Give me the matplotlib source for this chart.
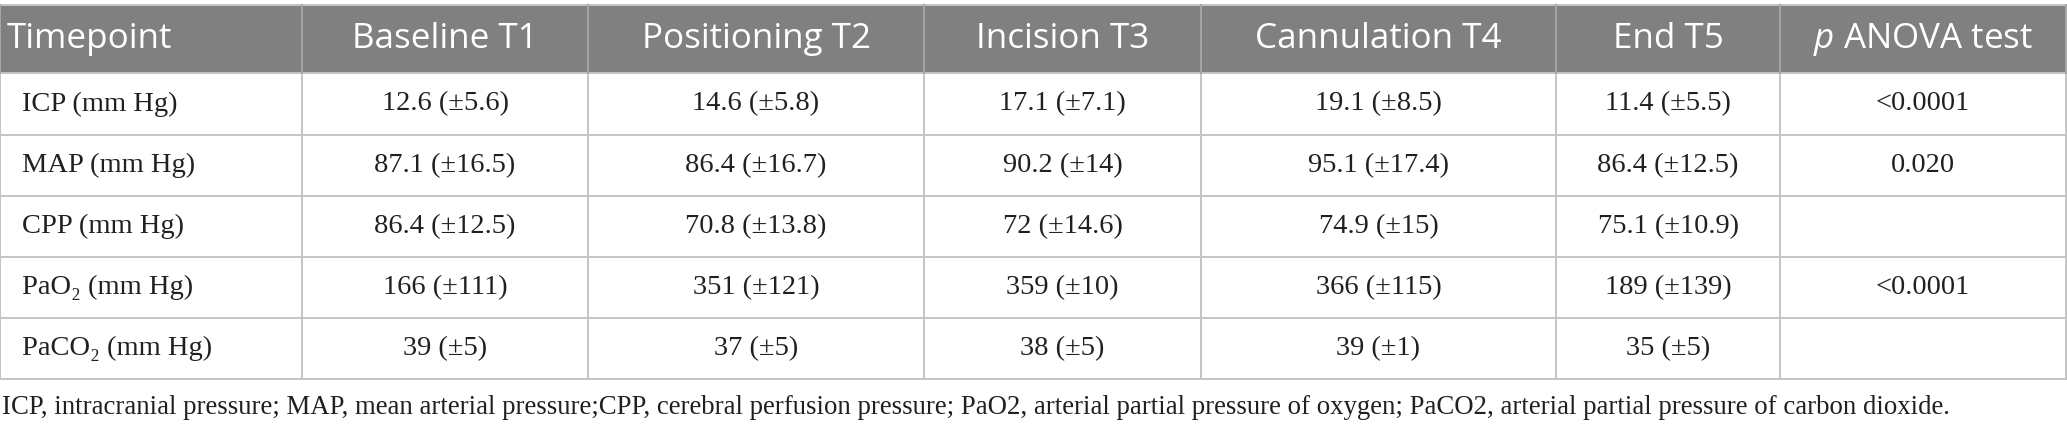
import matplotlib
matplotlib.use("Agg")
import matplotlib.pyplot as plt

plt.rcParams['mathtext.fontset'] = 'custom'
plt.rcParams['mathtext.rm'] = 'Open Sans'
plt.rcParams['mathtext.it'] = 'Open Sans:italic'

headers = ["Timepoint", "Baseline T1", "Positioning T2", "Incision T3",
           "Cannulation T4", "End T5", "$p$ ANOVA test"]
params = ["ICP (mm Hg)", "MAP (mm Hg)", "CPP (mm Hg)",
          "PaO\u2082 (mm Hg)", "PaCO\u2082 (mm Hg)"]
t1 = ["12.6 (±5.6)", "87.1 (±16.5)", "86.4 (±12.5)", "166 (±111)", "39 (±5)"]
t2 = ["14.6 (±5.8)", "86.4 (±16.7)", "70.8 (±13.8)", "351 (±121)", "37 (±5)"]
t3 = ["17.1 (±7.1)", "90.2 (±14)", "72 (±14.6)", "359 (±10)", "38 (±5)"]
t4 = ["19.1 (±8.5)", "95.1 (±17.4)", "74.9 (±15)", "366 (±115)", "39 (±1)"]
t5 = ["11.4 (±5.5)", "86.4 (±12.5)", "75.1 (±10.9)", "189 (±139)", "35 (±5)"]
p_anova = ["<0.0001", "0.020", "", "<0.0001", ""]
footnote = ("ICP, intracranial pressure; MAP, mean arterial pressure;CPP, cerebral "
            "perfusion pressure; PaO2, arterial partial pressure of oxygen; PaCO2, "
            "arterial partial pressure of carbon dioxide.")

# layout in pixels
col_edges = [0, 302, 588, 924, 1201, 1556, 1780, 2066]
row_edges = [5, 73, 135, 196, 257, 318, 379]

W, H = 2067, 432
fig = plt.figure(figsize=(W / 100, H / 100), dpi=100)
ax = fig.add_axes([0, 0, 1, 1])
ax.set_xlim(0, W)
ax.set_ylim(H, 0)
ax.axis('off')
renderer = fig.canvas.get_renderer()

head_col = '#808080'
line_col = '#c4c4c4'
txt_col = '#231f20'
serif = ['Liberation Serif', 'DejaVu Serif']


def fit_size(s, family, target, base=20):
    # font size that gives the text a given pixel width
    t = ax.text(0, 0, s, family=family, fontsize=base)
    w = t.get_window_extent(renderer).width
    t.remove()
    return base * target / w


head_fs = fit_size("Baseline T1", 'Open Sans', 185)
body_fs = (fit_size("12.6 (±5.6)", serif, 123) + fit_size("ICP (mm Hg)", serif, 161)) / 2
foot_fs = fit_size(footnote, serif, 1945)

# header band
ax.fill_between([col_edges[0], col_edges[-1]], row_edges[0], row_edges[1],
                color=head_col, lw=0)
for j, h in enumerate(headers):
    yc = (row_edges[0] + row_edges[1]) / 2
    if j == 0:
        ax.text(col_edges[0] + 7, yc, h, ha='left', va='center',
                family='Open Sans', fontsize=head_fs, color='white')
    else:
        ax.text((col_edges[j] + col_edges[j + 1]) / 2, yc, h, ha='center',
                va='center', family='Open Sans', fontsize=head_fs, color='white')

# body
cols = [params, t1, t2, t3, t4, t5, p_anova]
for i in range(len(params)):
    yc = (row_edges[i + 1] + row_edges[i + 2]) / 2
    for j, c in enumerate(cols):
        if j == 0:
            ax.text(col_edges[0] + 22, yc, c[i], ha='left', va='center',
                    family=serif, fontsize=body_fs, color=txt_col)
        else:
            ax.text((col_edges[j] + col_edges[j + 1]) / 2, yc, c[i],
                    ha='center', va='center', family=serif, fontsize=body_fs,
                    color=txt_col)

# grid lines
for y in row_edges:
    ax.plot([col_edges[0], col_edges[-1]], [y, y], color=line_col, lw=1.4)
for x in col_edges:
    ax.plot([x, x], [row_edges[1], row_edges[-1]], color=line_col, lw=1.4)
    ax.plot([x, x], [row_edges[0], row_edges[1]], color='#a6a6a6', lw=1.4)

ax.text(2, 408, footnote, ha='left', va='center', family=serif,
        fontsize=foot_fs, color=txt_col)

fig.savefig('out.png', dpi=100)
